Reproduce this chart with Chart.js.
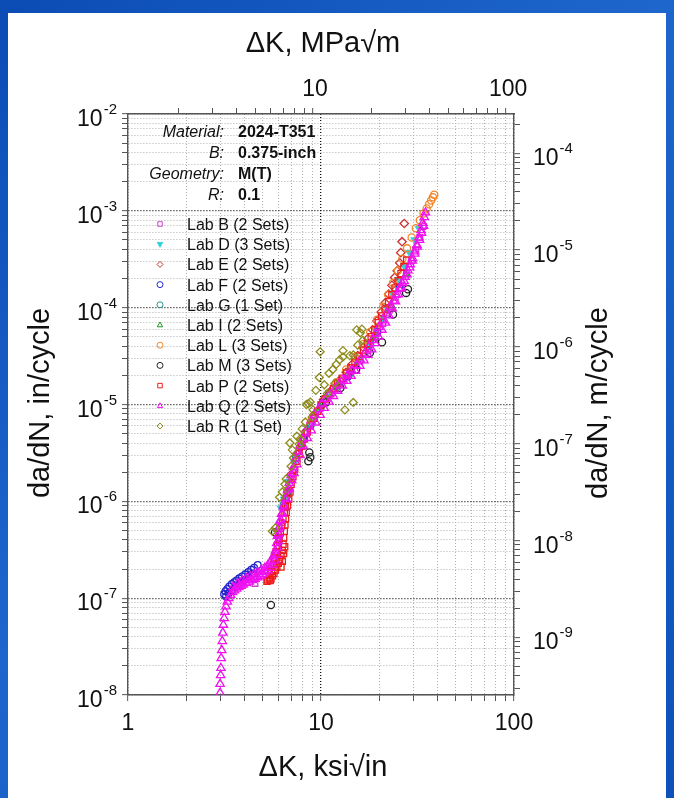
<!DOCTYPE html>
<html><head><meta charset="utf-8">
<script src="https://cdn.jsdelivr.net/npm/chart.js@4/dist/chart.umd.min.js"></script>
<style>
html,body{margin:0;padding:0;width:674px;height:798px;overflow:hidden;}
body{background:linear-gradient(135deg,#0b4cb4 0%,#1e66cc 45%,#0d50b9 100%);}
#panel{position:absolute;left:8px;top:13px;width:658px;height:785px;background:#fff;}
#c{position:absolute;left:0;top:0;}
</style></head><body>
<div id="panel"></div>
<canvas id="c" width="674" height="798"></canvas>
<script>
// ---- data: [ΔK (ksi√in), da/dN (in/cycle)] ----
const labB = [[3.9,1.47e-7],[4.2,1.57e-7],[4.55,1.42e-7],[4.8,1.78e-7],[5.1,1.92e-7],[5.4,2.12e-7],[5.65,2.45e-7],[5.9,3.0e-7],[6.1,4.2e-7],[6.3,6.0e-7],[6.5,8.6e-7],[6.8,1.3e-6],[7.2,2.1e-6],[7.7,3.3e-6],[8.4,5.0e-6],[9.2,7.2e-6],[10.2,1.02e-5],[11.4,1.33e-5],[12.8,1.75e-5],[14.3,2.2e-5],[15.9,2.8e-5],[17.5,3.6e-5],[19.2,4.9e-5],[20.9,6.8e-5],[22.6,9.4e-5],[24.3,1.28e-4],[26.0,1.72e-4],[27.7,2.3e-4],[29.4,3.05e-4],[31.0,4.0e-4],[32.5,5.3e-4],[33.8,6.9e-4]];
const labD = [[6.2,8.5e-7],[6.45,1.05e-6],[6.8,1.6e-6],[7.3,2.5e-6],[7.9,3.8e-6],[8.7,5.8e-6],[9.6,8.4e-6],[10.8,1.2e-5],[12.3,1.62e-5],[14.0,2.2e-5],[15.8,3.0e-5],[17.6,4.1e-5],[19.3,5.8e-5],[20.6,7.8e-5],[21.9,1.02e-4],[23.5,1.4e-4],[25.2,1.95e-4],[27.0,2.7e-4],[28.8,3.7e-4],[30.6,5.0e-4],[32.2,6.6e-4]];
const labE = [[6.6,1.1e-6],[7.0,1.9e-6],[7.5,3.1e-6],[8.3,5.2e-6],[9.2,7.8e-6],[10.3,1.12e-5],[11.4,1.42e-5],[12.5,1.78e-5],[13.5,2.15e-5],[14.5,2.6e-5],[15.5,3.2e-5],[16.5,3.9e-5],[17.5,4.8e-5],[18.5,5.9e-5],[19.5,7.3e-5],[20.5,9.0e-5],[21.5,1.12e-4],[22.4,1.38e-4],[23.3,1.7e-4],[24.1,2.05e-4],[24.8,2.4e-4],[25.6,2.9e-4],[25.9,3.7e-4],[26.3,4.8e-4],[27.0,7.4e-4]];
const labF = [[3.15,1.1e-7],[3.2,1.18e-7],[3.27,1.24e-7],[3.35,1.32e-7],[3.45,1.4e-7],[3.55,1.46e-7],[3.65,1.52e-7],[3.77,1.6e-7],[3.9,1.67e-7],[4.05,1.76e-7],[4.2,1.86e-7],[4.35,1.96e-7],[4.5,2.06e-7],[4.7,2.2e-7],[3.22,1.04e-7],[3.32,1.12e-7],[3.45,1.2e-7],[3.6,1.3e-7],[3.8,1.42e-7],[4.0,1.55e-7],[4.2,1.67e-7],[4.42,1.8e-7],[6.7,1.25e-6],[8.1,4.4e-6],[10.1,1.0e-5],[13.8,1.95e-5],[19.6,5.6e-5],[25.5,1.6e-4]];
const labG = [[6.4,9.2e-7],[7.4,2.8e-6],[8.9,6.3e-6],[11.0,1.25e-5],[14.0,2.05e-5],[18.0,4.2e-5],[22.0,8.6e-5]];
const labI = [[6.75,1.2e-6],[7.9,3.9e-6],[9.9,9.4e-6],[12.1,1.52e-5],[15.2,2.5e-5],[19.0,4.9e-5],[23.2,1.05e-4],[27.5,2.2e-4]];
const labL = [[9.0,7.2e-6],[10.5,1.15e-5],[12.0,1.7e-5],[13.5,2.3e-5],[15.0,3.1e-5],[16.5,4.2e-5],[18.0,5.6e-5],[19.5,7.5e-5],[21.0,1.02e-4],[22.3,1.36e-4],[23.6,1.8e-4],[25.0,2.4e-4],[26.4,3.2e-4],[27.9,4.1e-4],[29.5,5.3e-4],[31.0,6.6e-4],[32.5,8.0e-4],[34.0,9.4e-4],[35.3,1.06e-3],[36.3,1.17e-3],[37.2,1.28e-3],[38.0,1.38e-3],[38.6,1.47e-3]];
const labM = [[5.5,8.5e-8],[5.78,4.8e-7],[8.6,2.6e-6],[8.8,2.85e-6],[8.7,3.2e-6],[10.6,1.05e-5],[12.6,1.48e-5],[15.2,2.3e-5],[17.9,3.4e-5],[20.7,4.4e-5],[23.6,8.5e-5],[27.6,1.42e-4],[28.2,1.55e-4]];
const labP = [[5.3,1.55e-7],[5.4,1.62e-7],[5.5,1.58e-7],[5.6,1.7e-7],[5.7,1.8e-7],[5.8,1.95e-7],[5.9,2.1e-7],[6.0,2.3e-7],[6.1,2.5e-7],[6.2,2.75e-7],[6.3,3.1e-7],[6.35,3.6e-7],[6.4,4.2e-7],[6.45,4.9e-7],[6.5,5.7e-7],[6.55,6.6e-7],[6.6,7.7e-7],[6.7,9.0e-7],[6.8,1.05e-6],[6.9,1.25e-6],[7.0,1.5e-6],[7.15,1.8e-6],[7.3,2.15e-6],[7.5,2.6e-6],[7.7,3.1e-6],[7.95,3.7e-6],[8.2,4.4e-6],[8.5,5.2e-6],[8.8,6.1e-6],[9.2,7.2e-6],[9.6,8.5e-6],[10.0,9.9e-6],[10.5,1.14e-5],[11.0,1.29e-5],[11.6,1.46e-5],[12.2,1.65e-5],[12.9,1.87e-5],[13.6,2.11e-5],[14.3,2.4e-5],[15.0,2.74e-5],[15.8,3.15e-5],[16.6,3.65e-5],[17.4,4.25e-5],[18.2,5.0e-5],[19.0,5.9e-5],[19.8,7.0e-5],[20.6,8.2e-5],[21.5,9.7e-5],[22.4,1.15e-4],[23.3,1.36e-4],[24.2,1.6e-4],[25.1,1.9e-4],[26.0,2.25e-4],[26.9,2.65e-4],[27.8,3.1e-4],[5.25,1.5e-7],[5.45,1.52e-7],[5.55,1.9e-7],[5.65,2.2e-7],[5.75,2.6e-7],[5.85,3.0e-7],[5.95,3.5e-7],[6.05,4.1e-7],[6.15,4.8e-7],[6.25,5.6e-7],[6.35,6.5e-7],[6.45,7.6e-7],[6.55,8.8e-7],[6.2,2.1e-7],[6.3,2.4e-7],[6.4,2.9e-7],[6.48,3.4e-7]];
const labQ = [[3.0,1.05e-8],[3.0,1.3e-8],[3.02,1.6e-8],[3.03,1.9e-8],[3.04,2.4e-8],[3.06,2.9e-8],[3.08,3.6e-8],[3.1,4.4e-8],[3.12,5.3e-8],[3.15,6.2e-8],[3.18,7.2e-8],[3.22,8.2e-8],[3.27,9.2e-8],[3.33,1.0e-7],[3.4,1.08e-7],[3.48,1.15e-7],[3.56,1.2e-7],[3.65,1.25e-7],[3.75,1.3e-7],[3.85,1.34e-7],[3.95,1.38e-7],[4.1,1.43e-7],[4.25,1.48e-7],[4.4,1.53e-7],[4.55,1.58e-7],[4.7,1.64e-7],[4.85,1.7e-7],[5.0,1.77e-7],[5.15,1.85e-7],[5.3,1.95e-7],[5.45,2.05e-7],[5.6,2.2e-7],[5.75,2.45e-7],[5.85,2.8e-7],[5.95,3.3e-7],[6.0,3.9e-7],[6.05,4.6e-7],[6.1,5.4e-7],[6.2,6.4e-7],[6.3,7.6e-7],[6.4,9.0e-7],[6.55,1.08e-6],[6.7,1.3e-6],[6.85,1.55e-6],[7.0,1.85e-6],[7.2,2.25e-6],[7.4,2.75e-6],[7.6,3.25e-6],[7.8,3.8e-6],[8.05,4.4e-6],[8.3,5.1e-6],[8.6,5.9e-6],[8.9,6.8e-6],[9.3,7.8e-6],[9.7,9.0e-6],[10.1,1.02e-5],[10.6,1.14e-5],[11.1,1.27e-5],[11.7,1.42e-5],[12.3,1.6e-5],[13.0,1.8e-5],[13.7,2.0e-5],[14.4,2.25e-5],[15.2,2.55e-5],[16.0,2.9e-5],[16.8,3.35e-5],[17.6,3.9e-5],[18.4,4.6e-5],[19.2,5.4e-5],[20.0,6.3e-5],[20.9,7.4e-5],[21.8,8.7e-5],[22.8,1.02e-4],[23.7,1.18e-4],[24.6,1.36e-4],[25.5,1.56e-4],[26.4,1.8e-4],[27.3,2.08e-4],[28.2,2.42e-4],[29.0,2.8e-4],[29.8,3.25e-4],[30.6,3.8e-4],[31.4,4.45e-4],[32.2,5.3e-4],[33.0,6.3e-4],[33.7,7.5e-4],[34.3,8.6e-4],[34.8,9.6e-4],
  [3.5,1.3e-7],[3.7,1.42e-7],[3.9,1.52e-7],[4.1,1.6e-7],[4.3,1.68e-7],[4.5,1.76e-7],[4.7,1.85e-7],[4.9,1.95e-7],[5.1,2.05e-7],[5.3,2.2e-7],[5.5,2.4e-7],[5.65,2.7e-7],[5.8,3.1e-7],[5.9,3.7e-7],[5.95,4.4e-7],[6.0,5.2e-7],[6.1,6.2e-7],[6.25,7.4e-7],[6.4,8.8e-7],[6.6,1.05e-6],[6.85,1.35e-6],[7.05,1.65e-6],[7.25,1.95e-6],[7.5,2.4e-6],[7.8,3.0e-6],[8.1,3.7e-6],[8.5,4.5e-6],[8.9,5.4e-6],[9.4,6.5e-6],[9.9,7.8e-6],[10.4,9.2e-6],[11.0,1.07e-5],[11.6,1.22e-5],[12.2,1.38e-5],[12.9,1.56e-5],[13.6,1.75e-5],[14.3,1.97e-5],[15.1,2.22e-5],[15.9,2.5e-5],[16.7,2.85e-5],[17.5,3.25e-5],[18.3,3.7e-5],[19.1,4.3e-5],[19.9,5.0e-5],[20.7,5.9e-5],[21.6,7.0e-5],[22.5,8.3e-5],[23.4,9.8e-5],[24.3,1.16e-4],[25.2,1.37e-4],[26.1,1.6e-4],[27.0,1.88e-4],[27.9,2.2e-4],[28.8,2.6e-4],[29.7,3.05e-4],[30.6,3.6e-4],[31.5,4.25e-4],[32.4,5.0e-4],[33.2,5.9e-4],[34.0,7.0e-4]];
const labR = [[5.6,4.9e-7],[5.8,5.3e-7],[6.1,1.1e-6],[6.3,1.25e-6],[6.5,1.5e-6],[6.6,1.7e-6],[6.9,4.0e-6],[7.1,3.4e-6],[7.2,2.8e-6],[7.0,2.3e-6],[7.5,4.7e-6],[7.7,3.9e-6],[7.8,4.4e-6],[8.0,5.6e-6],[8.3,6.6e-6],[8.4,1.0e-5],[8.6,1.02e-5],[8.8,1.06e-5],[9.0,7.4e-6],[9.1,8.8e-6],[9.4,1.4e-5],[9.8,1.9e-5],[9.9,3.5e-5],[10.4,1.6e-5],[10.8,1.3e-5],[11.0,2.1e-5],[11.5,2.3e-5],[11.8,1.65e-5],[12.0,2.6e-5],[12.5,2.9e-5],[13.0,3.1e-5],[13.0,3.6e-5],[13.3,8.8e-6],[14.1,3.2e-5],[14.7,3.25e-5],[14.7,1.05e-5],[15.3,5.9e-5],[15.5,4.1e-5],[16.0,5.5e-5],[16.3,6.0e-5],[16.5,4.6e-5]];

const labNames = ['Lab B (2 Sets)','Lab D (3 Sets)','Lab E (2 Sets)','Lab F (2 Sets)','Lab G (1 Set)','Lab I (2 Sets)','Lab L (3 Sets)','Lab M (3 Sets)','Lab P (2 Sets)','Lab Q (2 Sets)','Lab R (1 Set)'];
const labSeries = [labB, labD, labE, labF, labG, labI, labL, labM, labP, labQ, labR];

// axis ticks / labels
const xMajor = [1, 10, 100];            // ksi√in
const x2Major = [10, 100];              // MPa√m
const yMajorExp = [-2, -3, -4, -5, -6, -7, -8];   // in/cycle
const y2MajorExp = [-4, -5, -6, -7, -8, -9];      // m/cycle
const minorMult = [1, 2, 3, 4, 5, 6, 7, 8, 9];
const KSI_TO_MPA = 1.0988;
const IN_TO_M = 0.0254;

const infoKeys = ['Material:', 'B:', 'Geometry:', 'R:'];
const infoVals = ['2024-T351', '0.375-inch', 'M(T)', '0.1'];

// ---- styles ----
const markerStyles = [
  {color:'#d040d0', shape:'rect', r:4},
  {color:'#35d3d8', shape:'triangle', rot:180, fill:true, r:4},
  {color:'#cc3030', shape:'rectRot', r:4.2},
  {color:'#2424cc', shape:'circle', r:3.4},
  {color:'#21968e', shape:'circle', r:3.4},
  {color:'#20982a', shape:'triangle', r:4},
  {color:'#f2862a', shape:'circle', r:3.6},
  {color:'#222222', shape:'circle', r:3.6},
  {color:'#ee1c1c', shape:'rect', r:4.4},
  {color:'#f010f0', shape:'triangle', r:4.8},
  {color:'#8e8c1c', shape:'rectRot', r:4}
];
const FONT = '"Liberation Sans", Arial, Helvetica, sans-serif';

function logTicks(min, max) {
  const out = [];
  const d0 = Math.floor(Math.log10(min)) , d1 = Math.ceil(Math.log10(max));
  for (let d = d0; d <= d1; d++) {
    for (const m of minorMult) {
      const v = Number((m * Math.pow(10, d)).toPrecision(12));
      if (v >= min * (1 - 1e-9) && v <= max * (1 + 1e-9)) out.push({value: v, major: m === 1});
    }
  }
  return out;
}

function axisOpts(pos, min, max, onArea) {
  return {
    type: 'logarithmic', position: pos, min: min, max: max,
    afterBuildTicks: s => { s.ticks = logTicks(s.min, s.max); },
    ticks: {display: false},
    grid: {
      drawOnChartArea: onArea,
      color: c => (c.tick && c.tick.major) ? '#111' : '#b0b0b0',
      lineWidth: c => (c.tick && c.tick.major) ? 1.3 : 1,
      drawTicks: true, tickLength: 6, tickColor: '#555', tickWidth: 1
    },
    border: {display: true, color: '#555', width: 1.4, dash: [1, 2]}
  };
}

const datasets = labSeries.map((arr, i) => {
  const st = markerStyles[i];
  return {
    label: labNames[i],
    data: arr.map(p => ({x: p[0], y: p[1]})),
    xAxisID: 'x', yAxisID: 'y',
    showLine: false,
    pointStyle: st.shape,
    pointRotation: st.rot || 0,
    pointRadius: st.r,
    pointBorderWidth: 1.3,
    pointBorderColor: st.color,
    pointBackgroundColor: st.fill ? st.color : 'rgba(0,0,0,0)',
    order: labSeries.length - i
  };
});

function drawMarker(ctx, st, x, y, r) {
  ctx.save();
  ctx.lineWidth = 1; ctx.strokeStyle = st.color; ctx.fillStyle = st.color;
  ctx.beginPath();
  if (st.shape === 'circle') ctx.arc(x, y, r, 0, Math.PI * 2);
  else if (st.shape === 'rect') ctx.rect(x - r * 0.75, y - r * 0.75, r * 1.5, r * 1.5);
  else if (st.shape === 'rectRot') { ctx.moveTo(x, y - r); ctx.lineTo(x + r, y); ctx.lineTo(x, y + r); ctx.lineTo(x - r, y); ctx.closePath(); }
  else if (st.shape === 'triangle') {
    const s = st.rot ? -1 : 1;
    ctx.moveTo(x, y - s * r); ctx.lineTo(x + r * 0.9, y + s * r * 0.6); ctx.lineTo(x - r * 0.9, y + s * r * 0.6); ctx.closePath();
  }
  if (st.fill) ctx.fill();
  ctx.stroke();
  ctx.restore();
}

function drawPow(ctx, exp, x, y, align) {
  const base = '10', sup = String(exp);
  ctx.font = '23px ' + FONT; const wb = ctx.measureText(base).width;
  ctx.font = '15px ' + FONT; const ws = ctx.measureText(sup).width;
  const start = align === 'right' ? x - wb - ws - 1 : x;
  ctx.textAlign = 'left'; ctx.textBaseline = 'alphabetic';
  ctx.font = '23px ' + FONT; ctx.fillText(base, start, y + 12);
  ctx.font = '15px ' + FONT; ctx.fillText(sup, start + wb + 1, y);
}

const textPlugin = {
  id: 'texts',
  afterDraw(chart) {
    const ctx = chart.ctx; const sx = chart.scales.x, sx2 = chart.scales.x2, sy = chart.scales.y, sy2 = chart.scales.y2;
    ctx.save();
    ctx.fillStyle = '#111';
    yMajorExp.forEach(e => drawPow(ctx, e, 117, sy.getPixelForValue(Math.pow(10, e)), 'right'));
    y2MajorExp.forEach(e => drawPow(ctx, e, 533, sy2.getPixelForValue(Math.pow(10, e)), 'left'));
    ctx.font = '23px ' + FONT; ctx.textAlign = 'center'; ctx.textBaseline = 'middle';
    xMajor.forEach(v => ctx.fillText(String(v), sx.getPixelForValue(v), 724));
    x2Major.forEach(v => ctx.fillText(String(v), sx2.getPixelForValue(v) + 2, 90));
    ctx.font = '29px ' + FONT;
    ctx.fillText('\u0394K, MPa\u221Am', 323, 44);
    ctx.fillText('\u0394K, ksi\u221Ain', 323, 768);
    ctx.save(); ctx.translate(41, 403); ctx.rotate(-Math.PI / 2); ctx.fillText('da/dN, in/cycle', 0, 0); ctx.restore();
    ctx.save(); ctx.translate(599, 403); ctx.rotate(-Math.PI / 2); ctx.fillText('da/dN, m/cycle', 0, 0); ctx.restore();
    ctx.textBaseline = 'alphabetic';
    infoKeys.forEach((k, i) => {
      const by = 137 + i * 21;
      ctx.font = 'italic 16px ' + FONT; ctx.textAlign = 'right'; ctx.fillText(k, 224, by);
      ctx.font = 'bold 16px ' + FONT; ctx.textAlign = 'left'; ctx.fillText(infoVals[i], 238, by);
    });
    labNames.forEach((n, i) => {
      const by = 230 + i * 20.2;
      drawMarker(ctx, markerStyles[i], 160, by - 6, 3);
      ctx.font = '16px ' + FONT; ctx.textAlign = 'left'; ctx.fillStyle = '#111';
      ctx.fillText(n, 187, by);
    });
    ctx.restore();
  }
};

new Chart(document.getElementById('c'), {
  type: 'scatter',
  data: {datasets},
  options: {
    responsive: false, animation: false, events: [],
    layout: {padding: {left: 122, right: 154, top: 108, bottom: 97}},
    plugins: {legend: {display: false}, tooltip: {enabled: false}},
    scales: {
      x: axisOpts('bottom', xMajor[0], xMajor[2], true),
      x2: axisOpts('top', xMajor[0] * KSI_TO_MPA, xMajor[2] * KSI_TO_MPA, false),
      y: axisOpts('left', Math.pow(10, yMajorExp[6]), Math.pow(10, yMajorExp[0]), true),
      y2: axisOpts('right', Math.pow(10, yMajorExp[6]) * IN_TO_M, Math.pow(10, yMajorExp[0]) * IN_TO_M, false)
    }
  },
  plugins: [textPlugin]
});
</script></body></html>
